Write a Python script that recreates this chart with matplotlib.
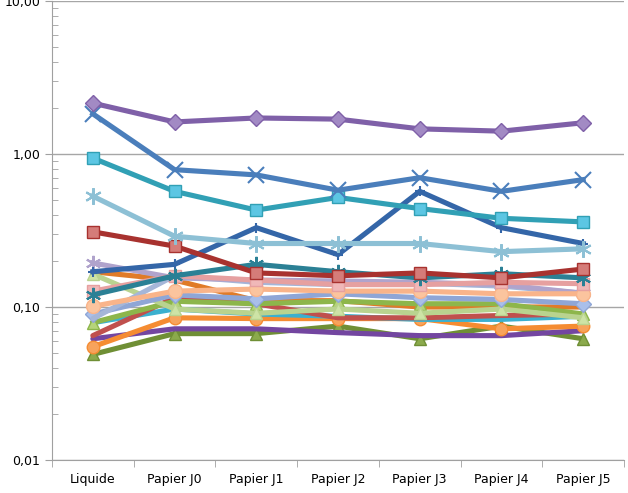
import matplotlib.pyplot as plt
from matplotlib.ticker import FixedLocator, LogLocator, NullFormatter

# Catégories de l'axe x
categories = ['Liquide', 'Papier J0', 'Papier J1', 'Papier J2', 'Papier J3', 'Papier J4', 'Papier J5']

# Valeurs (échelle log)
s_orange_fonce = [0.17, 0.15, 0.11, 0.11, 0.10, 0.10, 0.10]
s_olive = [0.049, 0.067, 0.067, 0.075, 0.062, 0.075, 0.062]
s_violet = [0.062, 0.072, 0.072, 0.068, 0.065, 0.065, 0.070]
s_orange = [0.055, 0.085, 0.084, 0.084, 0.084, 0.072, 0.075]
s_aqua = [0.079, 0.097, 0.090, 0.087, 0.083, 0.083, 0.087]
s_rouge2 = [0.065, 0.115, 0.105, 0.085, 0.085, 0.088, 0.090]
s_vert = [0.079, 0.109, 0.105, 0.109, 0.105, 0.105, 0.090]
s_vert_clair = [0.164, 0.097, 0.091, 0.097, 0.091, 0.097, 0.085]
s_pervenche_los = [0.090, 0.120, 0.113, 0.122, 0.115, 0.112, 0.105]
s_pervenche = [0.084, 0.160, 0.145, 0.140, 0.143, 0.137, 0.123]
s_lavande = [0.194, 0.155, 0.150, 0.148, 0.145, 0.140, 0.123]
s_peche = [0.101, 0.127, 0.131, 0.127, 0.127, 0.122, 0.122]
s_rose = [0.127, 0.160, 0.150, 0.140, 0.140, 0.145, 0.142]
s_bleu_fonce = [0.17, 0.19, 0.33, 0.22, 0.57, 0.33, 0.26]
s_teal_fonce = [0.12, 0.16, 0.19, 0.17, 0.155, 0.165, 0.155]
s_rouge = [0.31, 0.25, 0.167, 0.16, 0.167, 0.155, 0.177]
s_bleu_clair = [0.53, 0.29, 0.26, 0.26, 0.26, 0.23, 0.24]
s_teal_carre = [0.94, 0.57, 0.43, 0.52, 0.44, 0.38, 0.36]
s_bleu_x = [1.83, 0.79, 0.73, 0.58, 0.70, 0.57, 0.68]
s_violet_los = [2.15, 1.62, 1.72, 1.69, 1.46, 1.41, 1.60]

asterisque = (6, 2, 0)

# (valeurs, couleur ligne, marqueur, couleur remplissage, taille)
series = [
    (s_orange_fonce, '#E07B28', None, None, 0),
    (s_olive, '#6F8F35', '^', '#8BAA4C', 9),
    (s_violet, '#7346A0', None, None, 0),
    (s_orange, '#F58C32', 'o', '#F7A35C', 9),
    (s_aqua, '#3BB0CF', None, None, 0),
    (s_rouge2, '#C0504D', None, None, 0),
    (s_vert, '#8DB64B', '^', '#B5D47A', 9),
    (s_vert_clair, '#B9D38F', '^', '#CDE3A6', 9),
    (s_pervenche_los, '#8FA6D6', 'D', '#A9BFEA', 8),
    (s_pervenche, '#A5B6D8', None, None, 0),
    (s_lavande, '#B0A3CC', asterisque, None, 11),
    (s_peche, '#F9B48A', 'o', '#FBC49E', 10),
    (s_rose, '#E6A0A0', 's', '#F0B8B8', 9),
    (s_bleu_fonce, '#3466A8', '+', None, 7),
    (s_teal_fonce, '#2B8095', asterisque, None, 11),
    (s_rouge, '#A8322F', 's', '#D57C79', 9),
    (s_bleu_clair, '#8DC0D5', asterisque, None, 12),
    (s_teal_carre, '#31A0B5', 's', '#5CC6E3', 9),
    (s_bleu_x, '#4A7EBB', 'x', None, 11),
    (s_violet_los, '#7F60A8', 'D', '#A28AC4', 8),
]

fig = plt.figure(figsize=(6.28, 4.93), dpi=100)
ax = fig.add_axes([52 / 628, 33 / 493, 572 / 628, 459 / 493])

x = list(range(len(categories)))
for vals, couleur, marq, face, taille in series:
    if marq is None:
        ax.plot(x, vals, color=couleur, linewidth=3.7, solid_capstyle='round')
    elif face is None:
        ax.plot(x, vals, color=couleur, linewidth=3.7, marker=marq,
                markersize=taille, markeredgewidth=1.5, markeredgecolor=couleur)
    else:
        ax.plot(x, vals, color=couleur, linewidth=3.7, marker=marq,
                markersize=taille, markerfacecolor=face, markeredgecolor=couleur,
                markeredgewidth=1.0)

ax.set_yscale('log')
ax.set_ylim(0.01, 10)
ax.set_xlim(-0.5, len(categories) - 0.5)

ax.set_yticks([0.01, 0.1, 1, 10])
ax.set_yticklabels(['0,01', '0,10', '1,00', '10,00'])
ax.yaxis.set_minor_locator(LogLocator(base=10, subs=range(2, 10)))
ax.yaxis.set_minor_formatter(NullFormatter())

ax.set_xticks(x)
ax.set_xticklabels(categories)
ax.xaxis.set_minor_locator(FixedLocator([i - 0.5 for i in range(len(categories) + 1)]))
ax.tick_params(axis='x', which='major', length=0, pad=9)
ax.tick_params(axis='x', which='minor', length=5, color='#A0A0A0', direction='out')
ax.tick_params(axis='y', which='major', length=5, color='#A0A0A0', direction='out')
ax.tick_params(axis='y', which='minor', length=4, color='#A0A0A0', direction='in')
ax.tick_params(labelsize=9)

ax.grid(axis='y', which='major', color='#A6A6A6', linewidth=1.0)
ax.set_axisbelow(True)

for cote in ['top', 'right']:
    ax.spines[cote].set_visible(False)
for cote in ['left', 'bottom']:
    ax.spines[cote].set_color('#A0A0A0')

fig.savefig('out.png', dpi=100)
